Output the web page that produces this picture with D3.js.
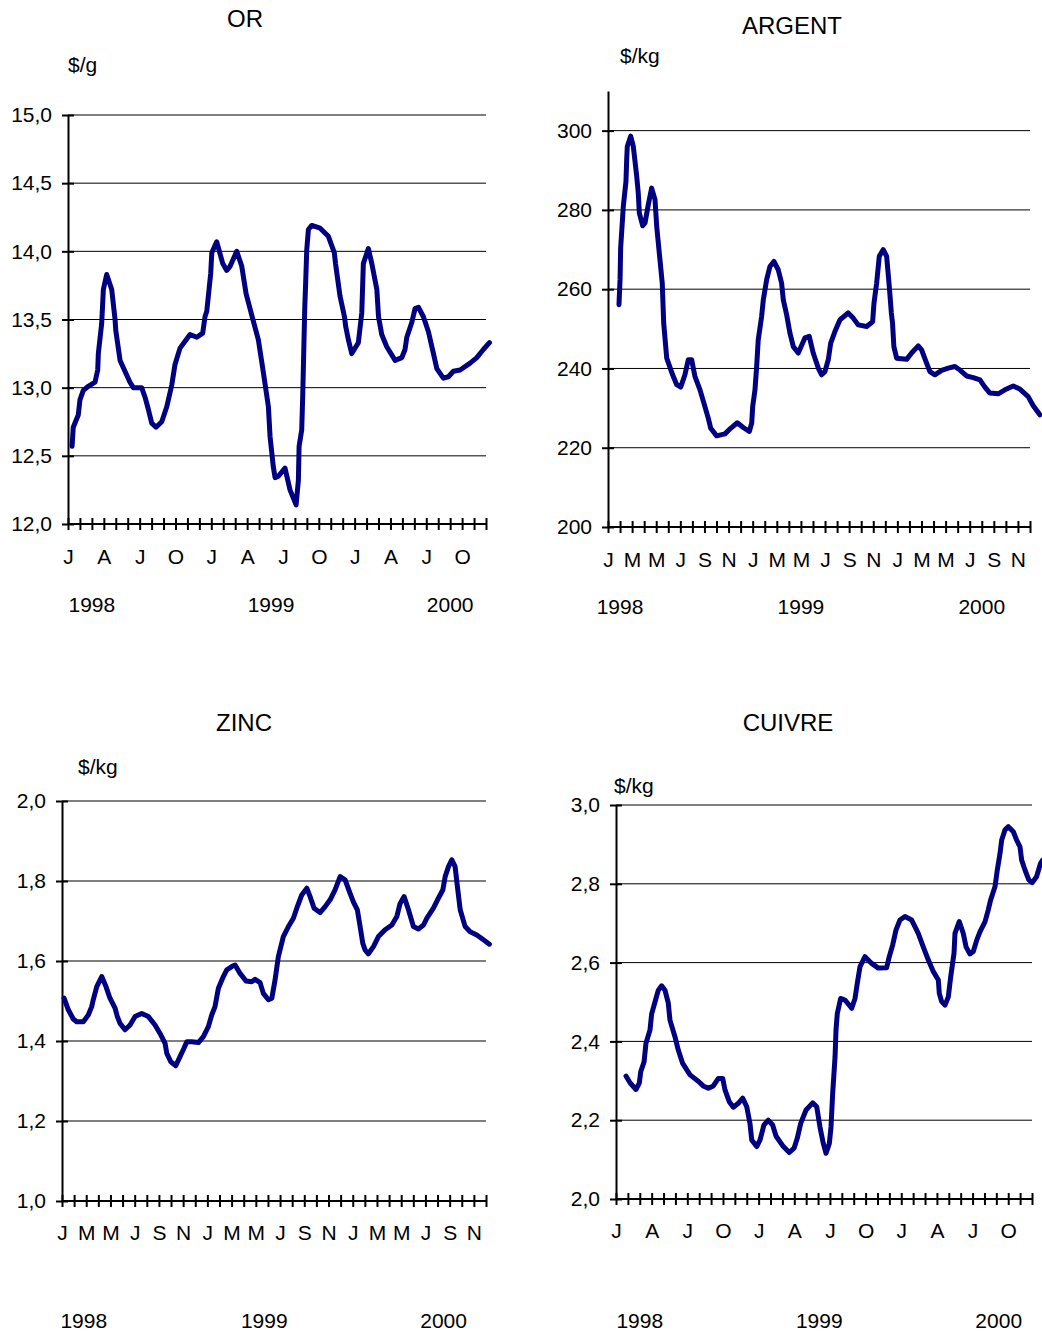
<!DOCTYPE html>
<html>
<head>
<meta charset="utf-8">
<script src="https://cdn.jsdelivr.net/npm/d3@7"></script>
<style>
  body { margin: 0; background: #fff; }
  svg text { font-family: "Liberation Sans", Arial, sans-serif; fill: #000; }
</style>
</head>
<body>
<div id="charts"></div>
<script>
// months since Jan 1998 (tick 0 = J 1998, tick 35 = D 2000)
var orT = [0.34, 0.44, 0.86, 1.0, 1.28, 1.70, 2.26, 2.49, 2.54, 2.82, 2.96, 3.24, 3.66, 3.94, 4.0, 4.36, 4.77, 5.19, 5.47, 6.17, 6.45, 6.73, 7.01, 7.37, 7.85, 8.27, 8.69, 8.96, 9.38, 9.80, 10.22, 10.78, 11.28, 11.47, 11.62, 11.95, 12.04, 12.45, 12.96, 13.29, 13.57, 14.13, 14.55, 14.91, 15.39, 15.94, 16.36, 16.78, 16.92, 17.19, 17.34, 17.61, 18.17, 18.59, 19.10, 19.29, 19.35, 19.57, 19.66, 19.82, 19.90, 19.99, 20.13, 20.41, 21.11, 21.80, 22.30, 22.40, 22.78, 23.15, 23.25, 23.48, 23.76, 24.31, 24.60, 24.73, 25.15, 25.44, 25.86, 26.0, 26.27, 26.69, 27.39, 27.95, 28.22, 28.37, 28.79, 29.06, 29.34, 29.76, 30.18, 30.60, 30.88, 31.43, 31.85, 32.27, 32.83, 33.67, 34.23, 34.78, 35.29];
var orV = [12.57, 12.71, 12.80, 12.91, 12.98, 13.01, 13.04, 13.13, 13.25, 13.47, 13.72, 13.83, 13.72, 13.50, 13.42, 13.20, 13.12, 13.04, 13.00, 13.00, 12.93, 12.84, 12.74, 12.71, 12.75, 12.86, 13.02, 13.17, 13.29, 13.34, 13.39, 13.37, 13.40, 13.52, 13.56, 13.84, 13.99, 14.07, 13.91, 13.86, 13.89, 14.00, 13.89, 13.69, 13.53, 13.35, 13.11, 12.86, 12.64, 12.42, 12.34, 12.35, 12.41, 12.25, 12.14, 12.32, 12.57, 12.69, 12.96, 13.57, 13.77, 14.01, 14.16, 14.19, 14.17, 14.11, 13.99, 13.91, 13.67, 13.52, 13.45, 13.35, 13.25, 13.33, 13.55, 13.91, 14.02, 13.91, 13.72, 13.52, 13.39, 13.30, 13.20, 13.22, 13.28, 13.37, 13.48, 13.58, 13.59, 13.52, 13.41, 13.25, 13.14, 13.07, 13.08, 13.12, 13.13, 13.18, 13.22, 13.28, 13.33];

var argT = [0.91, 1.0, 1.05, 1.27, 1.49, 1.55, 1.60, 1.88, 2.10, 2.38, 2.51, 2.60, 2.88, 3.07, 3.34, 3.62, 3.90, 4.04, 4.31, 4.50, 4.56, 4.62, 4.87, 5.36, 5.70, 6.03, 6.38, 6.66, 6.94, 7.21, 7.63, 7.96, 8.32, 8.52, 9.01, 9.70, 10.17, 10.72, 11.22, 11.72, 11.92, 12.0, 12.19, 12.33, 12.46, 12.74, 12.88, 13.16, 13.43, 13.76, 14.12, 14.40, 14.54, 14.82, 15.09, 15.37, 15.78, 16.33, 16.69, 17.02, 17.44, 17.72, 17.99, 18.27, 18.47, 18.82, 19.24, 19.92, 20.34, 20.75, 21.45, 21.95, 22.06, 22.28, 22.50, 22.83, 23.11, 23.33, 23.50, 23.60, 23.71, 23.94, 24.77, 25.18, 25.73, 26.01, 26.43, 26.70, 27.11, 27.67, 28.22, 28.77, 29.19, 29.74, 30.29, 30.85, 31.26, 31.67, 32.36, 32.92, 33.61, 34.16, 34.85, 35.27, 35.82];
var argV = [256.1, 262.4, 270.4, 280.9, 287.2, 292.7, 296.0, 298.6, 296.0, 288.5, 284.3, 279.2, 276.0, 276.7, 281.3, 285.5, 282.6, 275.8, 267.4, 261.5, 256.5, 251.4, 242.6, 238.4, 235.9, 235.3, 238.4, 242.2, 242.2, 238.0, 234.6, 231.2, 227.4, 224.9, 223.0, 223.5, 224.9, 226.3, 225.1, 224.1, 226.2, 230.4, 234.6, 240.5, 247.2, 253.1, 257.3, 262.4, 265.7, 267.0, 264.9, 261.5, 257.3, 253.5, 248.9, 245.5, 243.9, 247.7, 248.1, 243.9, 240.1, 238.4, 239.2, 242.2, 246.4, 249.3, 252.3, 254.0, 252.7, 251.0, 250.6, 251.8, 256.5, 261.5, 268.3, 270.0, 268.3, 260.7, 254.0, 251.4, 245.5, 242.6, 242.3, 243.9, 245.7, 244.7, 241.3, 239.2, 238.4, 239.5, 240.1, 240.5, 239.6, 238.1, 237.7, 237.1, 235.3, 233.8, 233.6, 234.6, 235.6, 234.8, 232.9, 230.6, 228.3];

var zincT = [0.17, 0.52, 0.93, 1.21, 1.76, 2.17, 2.45, 2.58, 2.87, 3.28, 3.63, 3.96, 4.38, 4.57, 4.79, 5.20, 5.62, 6.03, 6.58, 7.13, 7.68, 8.09, 8.51, 8.65, 8.98, 9.39, 9.74, 10.07, 10.30, 10.71, 11.26, 11.67, 12.08, 12.36, 12.63, 12.91, 13.32, 13.60, 14.01, 14.29, 14.70, 15.19, 15.66, 15.94, 16.35, 16.62, 17.04, 17.32, 17.59, 17.86, 18.27, 18.69, 19.10, 19.38, 19.79, 20.21, 20.48, 20.81, 21.30, 21.72, 22.13, 22.54, 22.96, 23.37, 23.78, 24.05, 24.38, 24.61, 24.83, 25.02, 25.29, 25.71, 26.12, 26.67, 27.23, 27.64, 27.91, 28.24, 28.60, 29.01, 29.42, 29.84, 30.12, 30.66, 31.07, 31.44, 31.63, 31.90, 32.18, 32.45, 32.64, 32.87, 33.28, 33.69, 34.24, 34.79, 35.28];
var zincV = [1.507, 1.478, 1.455, 1.448, 1.448, 1.465, 1.486, 1.503, 1.536, 1.561, 1.536, 1.507, 1.482, 1.461, 1.444, 1.428, 1.440, 1.461, 1.469, 1.461, 1.440, 1.419, 1.394, 1.369, 1.348, 1.338, 1.361, 1.382, 1.398, 1.398, 1.396, 1.411, 1.436, 1.465, 1.486, 1.532, 1.561, 1.578, 1.586, 1.590, 1.569, 1.550, 1.548, 1.554, 1.546, 1.519, 1.503, 1.507, 1.553, 1.611, 1.661, 1.686, 1.707, 1.732, 1.765, 1.782, 1.761, 1.732, 1.721, 1.736, 1.753, 1.778, 1.811, 1.803, 1.769, 1.748, 1.728, 1.686, 1.644, 1.628, 1.618, 1.636, 1.661, 1.678, 1.690, 1.711, 1.744, 1.761, 1.728, 1.686, 1.680, 1.690, 1.707, 1.732, 1.757, 1.778, 1.811, 1.836, 1.853, 1.836, 1.786, 1.728, 1.686, 1.673, 1.665, 1.653, 1.642];

var cuT = [0.84, 1.18, 1.68, 1.96, 2.08, 2.36, 2.52, 2.86, 3.0, 3.28, 3.56, 3.84, 4.12, 4.40, 4.54, 4.96, 5.24, 5.61, 6.23, 6.92, 7.34, 7.77, 8.19, 8.61, 8.98, 9.17, 9.53, 9.87, 10.29, 10.66, 11.0, 11.27, 11.42, 11.84, 12.12, 12.45, 12.81, 13.18, 13.46, 14.08, 14.58, 14.98, 15.25, 15.54, 15.99, 16.55, 16.89, 17.16, 17.44, 17.67, 17.95, 18.09, 18.23, 18.43, 18.51, 18.62, 18.90, 19.27, 19.83, 20.11, 20.30, 20.53, 20.95, 21.51, 22.07, 22.77, 22.99, 23.28, 23.56, 23.89, 24.31, 24.88, 25.43, 25.85, 26.27, 26.70, 27.12, 27.20, 27.40, 27.68, 27.96, 28.16, 28.44, 28.52, 28.88, 29.22, 29.45, 29.78, 30.06, 30.35, 30.62, 31.05, 31.32, 31.52, 31.89, 32.08, 32.31, 32.45, 32.73, 33.01, 33.43, 33.71, 33.99, 34.13, 34.41, 34.73, 35.02, 35.38, 35.72, 35.89];
var cuV = [2.312, 2.295, 2.278, 2.294, 2.323, 2.348, 2.395, 2.429, 2.470, 2.500, 2.530, 2.541, 2.530, 2.497, 2.454, 2.412, 2.378, 2.344, 2.315, 2.299, 2.287, 2.281, 2.287, 2.306, 2.306, 2.277, 2.247, 2.233, 2.243, 2.256, 2.234, 2.192, 2.150, 2.133, 2.150, 2.188, 2.200, 2.188, 2.160, 2.133, 2.118, 2.129, 2.154, 2.192, 2.226, 2.244, 2.234, 2.183, 2.141, 2.116, 2.141, 2.183, 2.268, 2.361, 2.429, 2.471, 2.509, 2.505, 2.484, 2.509, 2.547, 2.590, 2.615, 2.598, 2.586, 2.587, 2.615, 2.645, 2.683, 2.708, 2.717, 2.708, 2.674, 2.640, 2.607, 2.577, 2.556, 2.522, 2.501, 2.492, 2.513, 2.564, 2.624, 2.674, 2.704, 2.674, 2.640, 2.622, 2.628, 2.657, 2.678, 2.704, 2.734, 2.759, 2.793, 2.835, 2.877, 2.911, 2.937, 2.945, 2.932, 2.911, 2.894, 2.860, 2.835, 2.810, 2.803, 2.818, 2.852, 2.860];

// tick labels
var monthsQuarter = ['J', 'A', 'J', 'O'];
var monthsTwo = ['J', 'M', 'M', 'J', 'S', 'N'];
var years = ['1998', '1999', '2000'];
var orTicks = [12.0, 12.5, 13.0, 13.5, 14.0, 14.5, 15.0];
var argTicks = [200, 220, 240, 260, 280, 300];
var zincTicks = [1.0, 1.2, 1.4, 1.6, 1.8, 2.0];
var cuTicks = [2.0, 2.2, 2.4, 2.6, 2.8, 3.0];

var lineColor = '#000080';
var fr = d3.formatLocale({ decimal: ',', thousands: '.', grouping: [3], currency: ['', ''] });

document.addEventListener('DOMContentLoaded', function () {
    var svg = d3.select('#charts')
        .append('svg')
        .attr('width', 1042)
        .attr('height', 1336);

    drawPanel(svg, {
        title: 'OR', unit: '$/g', t: orT, v: orV, ticks: orTicks, fmt: fr.format('.1f'),
        months: monthsQuarter, every: 3, yearsAt: [2, 17, 32],
        x0: 68, x1: 486, yBottom: 524, yTop: 115, yDomain: [12, 15],
        titleX: 245, titleY: 27, unitX: 68, unitY: 72, monthY: 19, yearY: 612
    });
    drawPanel(svg, {
        title: 'ARGENT', unit: '$/kg', t: argT, v: argV, ticks: argTicks, fmt: d3.format('d'),
        months: monthsTwo, every: 2, yearsAt: [1, 16, 31],
        x0: 608, x1: 1030, yBottom: 527, yTop: 91, yDomain: [200, 310],
        titleX: 792, titleY: 34, unitX: 620, unitY: 63, monthY: 19, yearY: 614
    });
    drawPanel(svg, {
        title: 'ZINC', unit: '$/kg', t: zincT, v: zincV, ticks: zincTicks, fmt: fr.format('.1f'),
        months: monthsTwo, every: 2, yearsAt: [1.8, 16.7, 31.5],
        x0: 62, x1: 486, yBottom: 1201, yTop: 801, yDomain: [1, 2],
        titleX: 244, titleY: 731, unitX: 78, unitY: 774, monthY: 18, yearY: 1328
    });
    drawPanel(svg, {
        title: 'CUIVRE', unit: '$/kg', t: cuT, v: cuV, ticks: cuTicks, fmt: fr.format('.1f'),
        months: monthsQuarter, every: 3, yearsAt: [2, 17.1, 32.2],
        x0: 616, x1: 1032, yBottom: 1199, yTop: 805, yDomain: [2, 3],
        titleX: 788, titleY: 731, unitX: 614, unitY: 793, monthY: 18, yearY: 1328
    });
});

function drawPanel(svg, c) {
    var x = d3.scaleLinear().domain([0, 35]).range([c.x0, c.x1]);
    var y = d3.scaleLinear().domain(c.yDomain).range([c.yBottom, c.yTop]);
    var g = svg.append('g');

    // gridlines (not on the base)
    g.selectAll('.grid')
        .data(c.ticks.slice(1))
        .enter()
        .append('line')
        .attr('x1', c.x0)
        .attr('x2', x(35))
        .attr('y1', function (d) { return y(d); })
        .attr('y2', function (d) { return y(d); })
        .attr('stroke', '#000')
        .attr('stroke-width', 1);

    var xAxis = d3.axisBottom(x)
        .tickValues(d3.range(36))
        .tickSizeInner(6)
        .tickSizeOuter(0)
        .tickPadding(c.monthY)
        .tickFormat(function (d) {
            return d % c.every === 0 ? c.months[(d / c.every) % c.months.length] : '';
        });

    var gx = g.append('g')
        .attr('transform', 'translate(0,' + c.yBottom + ')')
        .call(xAxis);
    gx.select('.domain').attr('stroke-width', 2).attr('d', 'M' + c.x0 + ',0H' + x(35));
    gx.selectAll('.tick line').attr('y1', -6).attr('stroke-width', 2);
    gx.selectAll('.tick text').style('font-size', '21px');

    var yAxis = d3.axisLeft(y)
        .tickValues(c.ticks)
        .tickSizeInner(6)
        .tickSizeOuter(0)
        .tickPadding(10)
        .tickFormat(c.fmt);

    var gy = g.append('g')
        .attr('transform', 'translate(' + c.x0 + ',0)')
        .call(yAxis);
    gy.select('.domain').attr('stroke-width', 2);
    gy.selectAll('.tick line').attr('x1', 6).attr('stroke-width', 2);
    gy.selectAll('.tick text').style('font-size', '21px');

    // years
    g.selectAll('.year')
        .data(years)
        .enter()
        .append('text')
        .attr('x', function (d, i) { return x(c.yearsAt[i]); })
        .attr('y', c.yearY)
        .attr('text-anchor', 'middle')
        .style('font-size', '21px')
        .text(function (d) { return d; });

    g.append('text')
        .attr('x', c.titleX)
        .attr('y', c.titleY)
        .attr('text-anchor', 'middle')
        .style('font-size', '24px')
        .text(c.title);

    g.append('text')
        .attr('x', c.unitX)
        .attr('y', c.unitY)
        .style('font-size', '21px')
        .text(c.unit);

    var pts = c.t.map(function (t, i) { return [t, c.v[i]]; });
    var line = d3.line()
        .x(function (d) { return x(d[0]); })
        .y(function (d) { return y(d[1]); });

    g.append('path')
        .datum(pts)
        .attr('d', line)
        .attr('fill', 'none')
        .attr('stroke', lineColor)
        .attr('stroke-width', 5)
        .attr('stroke-linejoin', 'round')
        .attr('stroke-linecap', 'round');
}
</script>
</body>
</html>
